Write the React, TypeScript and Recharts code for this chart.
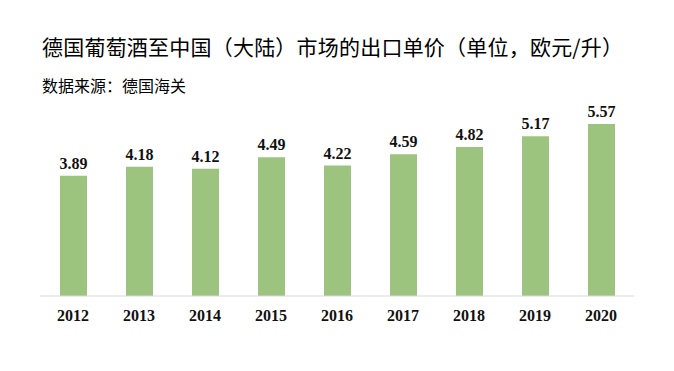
import React from 'react';
import { BarChart, Bar, XAxis, YAxis, LabelList } from 'recharts';

const years = ['2012', '2013', '2014', '2015', '2016', '2017', '2018', '2019', '2020'];
const prices = [3.89, 4.18, 4.12, 4.49, 4.22, 4.59, 4.82, 5.17, 5.57];
const title = '德国葡萄酒至中国（大陆）市场的出口单价（单位，欧元/升）';
const subtitle = '数据来源：德国海关';

const data = years.map((y, i) => ({ year: y, price: prices[i] }));

const serif = '"Liberation Serif", "DejaVu Serif", serif';
const cjk = '"Noto Sans CJK SC", sans-serif';

export default function App() {
  return (
    <div style={{ position: 'absolute', left: 0, top: 0, width: 674, height: 371, background: '#fff' }}>
      <BarChart
        width={674}
        height={371}
        data={data}
        margin={{ top: 110.6, right: 40, bottom: 45, left: 40 }}
        barCategoryGap="30%"
      >
        <XAxis
          dataKey="year"
          tickLine={false}
          axisLine={{ stroke: '#d9d9d9', strokeWidth: 1 }}
          tickMargin={8}
          height={30}
          tick={{ fill: '#111', fontSize: 16, fontWeight: 'bold', fontFamily: serif }}
        />
        <YAxis hide domain={[0, 6]} />
        <Bar dataKey="price" fill="#9CC47E" barSize={27} isAnimationActive={false}>
          <LabelList
            dataKey="price"
            position="top"
            offset={7}
            formatter={(v: number) => v.toFixed(2)}
            style={{ fill: '#111', fontSize: 16, fontWeight: 'bold', fontFamily: serif }}
          />
        </Bar>
      </BarChart>
      <svg width={674} height={110} style={{ position: 'absolute', left: 0, top: 0, pointerEvents: 'none' }}>
        <text x={42} y={55} fontFamily={cjk} fontSize={21} fill="#000" textLength={581} lengthAdjust="spacing">
          {title}
        </text>
        <text x={42} y={92} fontFamily={cjk} fontSize={16} fill="#000">
          {subtitle}
        </text>
      </svg>
    </div>
  );
}
